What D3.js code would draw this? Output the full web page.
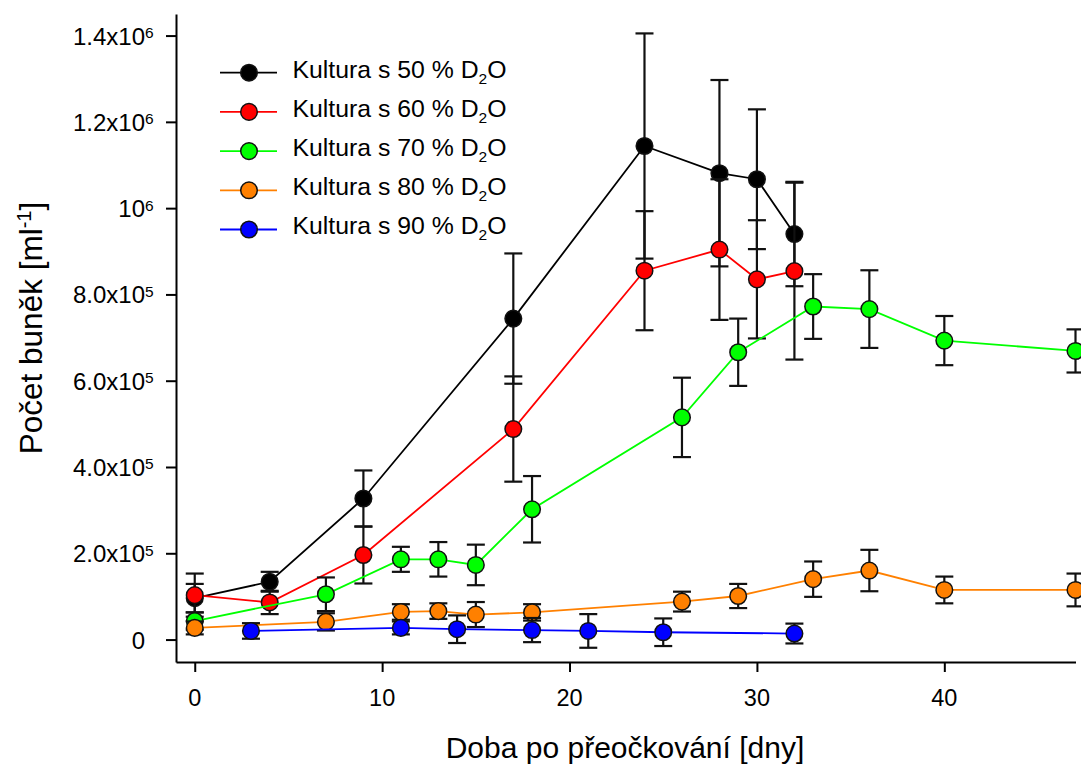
<!DOCTYPE html>
<html>
<head>
<meta charset="utf-8">
<script src="https://cdn.jsdelivr.net/npm/d3@7"></script>
<style>
  html, body { margin: 0; padding: 0; background: #fff; }
  svg { display: block; }
  text { font-family: Arial, "Liberation Sans", sans-serif; fill: #000; }
</style>
</head>
<body>
<svg id="chart" width="1081" height="765"></svg>
<script>
// ---- data ----
const seriesNames = ["Kultura s 50 % D", "Kultura s 60 % D", "Kultura s 70 % D", "Kultura s 80 % D", "Kultura s 90 % D"];
const seriesColors = ["#000000", "#ff0000", "#00ff00", "#ff8000", "#0000ff"];

const days50 = [0, 4, 9, 17, 24, 28, 30, 32];
const vals50 = [96000, 134000, 327000, 744000, 1144000, 1081000, 1067000, 940000];
const errs50 = [33000, 23000, 65000, 151000, 261000, 216000, 162000, 121000];

const days60 = [0, 4, 9, 17, 24, 28, 30, 32];
const vals60 = [103000, 86000, 196000, 488000, 855000, 904000, 835000, 854000];
const errs60 = [50000, 27000, 66000, 122000, 138000, 163000, 137000, 205000];

const days70 = [0, 7, 11, 13, 15, 18, 26, 29, 33, 36, 40, 47];
const vals70 = [43000, 105000, 186000, 186000, 173000, 302000, 515000, 666000, 772000, 766000, 693000, 669000];
const errs70 = [20000, 39000, 29000, 40000, 47000, 77000, 92000, 78000, 75000, 90000, 57000, 50000];

const days80 = [0, 7, 11, 13, 15, 18, 26, 29, 33, 36, 40, 47];
const vals80 = [27000, 41000, 64000, 66000, 58000, 63000, 88000, 101000, 140000, 160000, 115000, 115000];
const errs80 = [15000, 20000, 18000, 18000, 29000, 19000, 23000, 28000, 41000, 48000, 31000, 38000];

const days90 = [3, 11, 14, 18, 21, 25, 32];
const vals90 = [20000, 27000, 24000, 22000, 20000, 17000, 14000];
const errs90 = [18000, 15000, 32000, 28000, 39000, 32000, 23000];

const xTicks = [0, 10, 20, 30, 40];
const yTicks = [0, 200000, 400000, 600000, 800000, 1000000, 1200000, 1400000];
const yTickBase = ["0", "2.0x10", "4.0x10", "6.0x10", "8.0x10", "10", "1.2x10", "1.4x10"];
const yTickSup = ["", "5", "5", "5", "5", "6", "6", "6"];

const xTitle = "Doba po přeočkování [dny]";
const yTitleBase = "Počet buněk [ml";
const yTitleSup = "-1";

// ---- build ----
const allDays = [days50, days60, days70, days80, days90];
const allVals = [vals50, vals60, vals70, vals80, vals90];
const allErrs = [errs50, errs60, errs70, errs80, errs90];
const series = seriesNames.map((n, i) => ({
  name: n, color: seriesColors[i],
  pts: allDays[i].map((d, j) => ({ x: d, y: allVals[i][j], e: allErrs[i][j] }))
}));

const svg = d3.select("#chart");
const x = d3.scaleLinear().domain([-1, 47]).range([176, 1075.5]);
const y = d3.scaleLinear().domain([-52000, 1450000]).range([662, 14]);

// axes
const gx = svg.append("g").attr("transform", "translate(0,662)")
  .call(d3.axisBottom(x).tickValues(xTicks).tickSize(10).tickSizeOuter(0).tickFormat(""));
const gy = svg.append("g").attr("transform", "translate(176,0)")
  .call(d3.axisLeft(y).tickValues(yTicks).tickSize(10).tickSizeOuter(0).tickFormat(""));
[gx, gy].forEach(g => {
  g.selectAll("path.domain").attr("stroke", "#000").attr("stroke-width", 2);
  g.selectAll(".tick line").attr("stroke", "#000").attr("stroke-width", 2);
});

// x tick labels
svg.append("g").selectAll("text").data(xTicks).join("text")
  .attr("x", d => x(d)).attr("y", 706)
  .attr("text-anchor", "middle").attr("font-size", 23.5)
  .text(d => d);

// y tick labels (base + superscript)
const yl = svg.append("g");
yTicks.forEach((v, i) => {
  const ty = y(v);
  yl.append("text").attr("x", 145).attr("y", ty + 9).attr("text-anchor", "end")
    .attr("font-size", 24).text(yTickBase[i]);
  if (yTickSup[i]) {
    yl.append("text").attr("x", 145).attr("y", ty + 2.5).attr("text-anchor", "start")
      .attr("font-size", 15.5).text(yTickSup[i]);
  }
});

// titles
svg.append("text").attr("x", 625).attr("y", 758).attr("text-anchor", "middle")
  .attr("font-size", 30).text(xTitle);
const yt = svg.append("text").attr("transform", "translate(42,328) rotate(-90)")
  .attr("text-anchor", "middle").attr("font-size", 31.5);
yt.append("tspan").text(yTitleBase);
yt.append("tspan").attr("font-size", 20).attr("dy", -11).text(yTitleSup);
yt.append("tspan").attr("dy", 11).text("]");

// series
const line = d3.line().x(d => x(d.x)).y(d => y(d.y));
const capW = 9;
series.forEach(s => {
  const g = svg.append("g");
  // error bars
  const eb = g.append("g").attr("stroke", "#111").attr("stroke-width", 2.2).attr("fill", "none");
  s.pts.forEach(p => {
    const cx = x(p.x), y1 = y(p.y + p.e), y0 = y(p.y - p.e);
    eb.append("line").attr("x1", cx).attr("x2", cx).attr("y1", y1).attr("y2", y0);
    eb.append("line").attr("x1", cx - capW).attr("x2", cx + capW).attr("y1", y1).attr("y2", y1);
    eb.append("line").attr("x1", cx - capW).attr("x2", cx + capW).attr("y1", y0).attr("y2", y0);
  });
  g.append("path").datum(s.pts).attr("d", line)
    .attr("fill", "none").attr("stroke", s.color).attr("stroke-width", 1.8);
  g.selectAll("circle").data(s.pts).join("circle")
    .attr("cx", d => x(d.x)).attr("cy", d => y(d.y)).attr("r", 8.3)
    .attr("fill", s.color).attr("stroke", "#111").attr("stroke-width", 1.5);
});

// legend
const leg = svg.append("g");
series.forEach((s, i) => {
  const ry = 72.7 + i * 39.2;
  leg.append("line").attr("x1", 220).attr("x2", 277).attr("y1", ry).attr("y2", ry)
    .attr("stroke", s.color).attr("stroke-width", 1.8);
  leg.append("circle").attr("cx", 249).attr("cy", ry).attr("r", 8.3)
    .attr("fill", s.color).attr("stroke", "#111").attr("stroke-width", 1.5);
  const t = leg.append("text").attr("x", 292.5).attr("y", ry + 4.8).attr("font-size", 24.8);
  t.append("tspan").text(s.name);
  t.append("tspan").attr("font-size", 15.5).attr("dy", 6).text("2");
  t.append("tspan").attr("dy", -6).text("O");
});
</script>
</body>
</html>
